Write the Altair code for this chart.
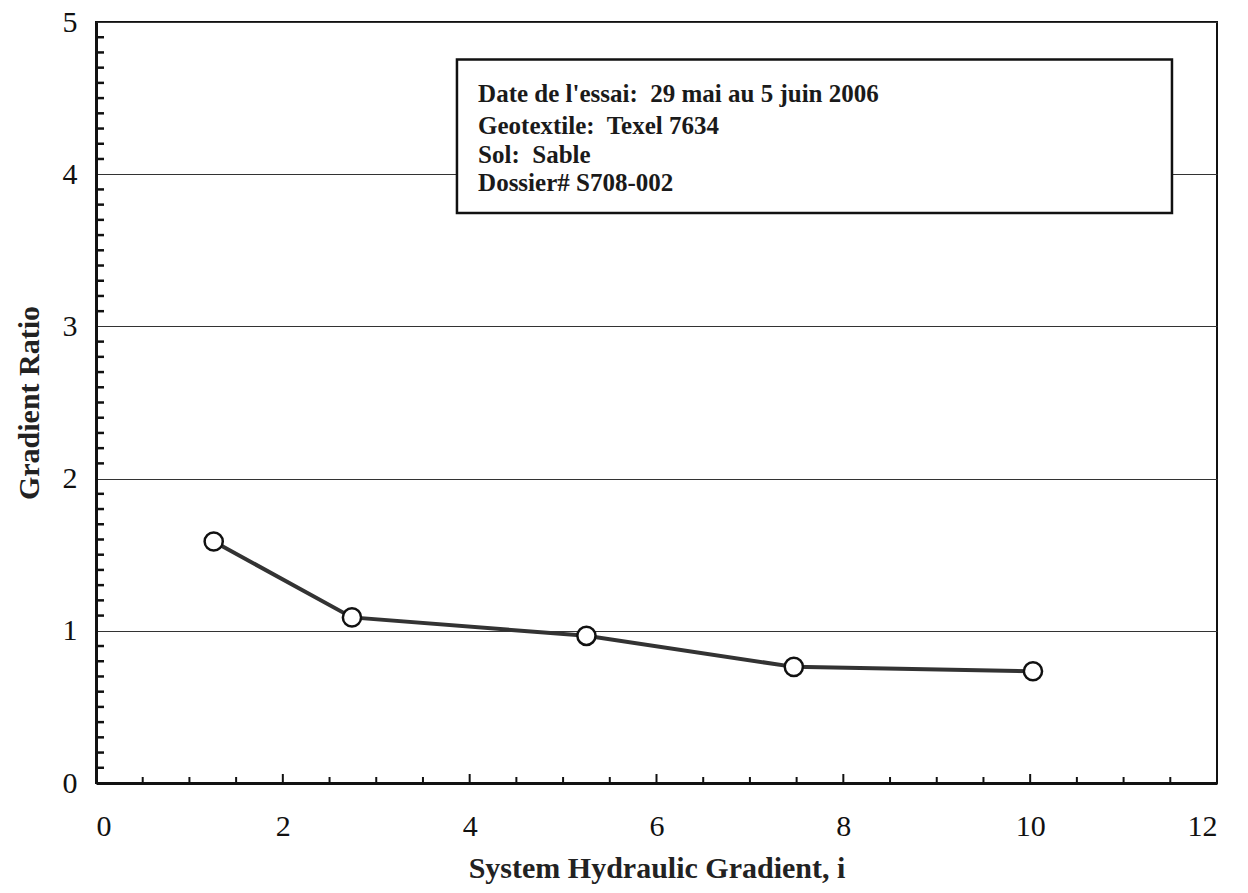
import altair as alt
import pandas as pd

# ---- data ----
gradient_i = [1.26, 2.74, 5.25, 7.47, 10.03]
gradient_ratio = [1.587, 1.088, 0.967, 0.763, 0.734]

x_labels = [0, 2, 4, 6, 8, 10, 12]
y_labels = [0, 1, 2, 3, 4, 5]
x_minor = [0.5, 1, 1.5, 2.5, 3, 3.5, 4.5, 5, 5.5, 6.5, 7, 7.5, 8.5, 9, 9.5,
           10.5, 11, 11.5]
x_major_inner = [2, 4, 6, 8, 10]
y_minor = [round(i / 10, 1) for i in range(1, 50) if i % 10 != 0]

note_lines = [
    "Date de l'essai:\u00a0 29 mai au 5 juin 2006",
    "Geotextile:\u00a0 Texel 7634",
    "Sol:\u00a0 Sable",
    "Dossier# S708-002",
]
note_y = [4.475, 4.265, 4.075, 3.89]
note_x = 4.09
box = {"x": 3.864, "x2": 11.518, "y": 4.754, "y2": 3.745}

W, H = 1121, 761
SERIF = "Liberation Serif"

df = pd.DataFrame({"i": gradient_i, "gr": gradient_ratio})
notes = pd.DataFrame({"t": note_lines, "y": note_y, "x": [note_x] * len(note_lines)})
boxdf = pd.DataFrame([box])
ymin = pd.DataFrame({"v": y_minor})
xmin = pd.DataFrame({"v": x_minor})
xmaj = pd.DataFrame({"v": x_major_inner})

xs = alt.Scale(domain=[0, 12], nice=False, zero=False)
ys = alt.Scale(domain=[0, 5], nice=False, zero=False)

xaxis = alt.Axis(
    values=x_labels, format="d", title="System Hydraulic Gradient, i",
    grid=False, ticks=False, tickSize=0, labelFont=SERIF, labelFontSize=30,
    labelColor="#111", labelPadding=28, domainColor="#111", domainWidth=3,
    titleFont=SERIF, titleFontSize=30, titleFontWeight="bold",
    titleColor="#222", titlePadding=12,
)
yaxis = alt.Axis(
    values=y_labels, format="d", title="Gradient Ratio", grid=True,
    gridColor="#333", gridWidth=1, ticks=False, tickSize=0, labelFont=SERIF,
    labelFontSize=30, labelColor="#111", labelPadding=19, domainColor="#111",
    domainWidth=3, titleFont=SERIF, titleFontSize=30, titleFontWeight="bold",
    titleColor="#222", titlePadding=18,
)

base_axes = alt.Chart(df).mark_point(opacity=0).encode(
    x=alt.X("i:Q", scale=xs, axis=xaxis),
    y=alt.Y("gr:Q", scale=ys, axis=yaxis),
)

rect = alt.Chart(boxdf).mark_rect(
    fill="white", stroke="#111", strokeWidth=2.5
).encode(
    x=alt.X("x:Q", scale=xs), x2="x2:Q",
    y=alt.Y("y:Q", scale=ys), y2="y2:Q",
)

text = alt.Chart(notes).mark_text(
    align="left", baseline="alphabetic", font=SERIF, fontSize=25,
    fontWeight="bold", color="#1a1a1a",
).encode(
    x=alt.X("x:Q", scale=xs), y=alt.Y("y:Q", scale=ys), text="t:N"
)

line = alt.Chart(df).mark_line(color="#333", strokeWidth=4).encode(
    x=alt.X("i:Q", scale=xs), y=alt.Y("gr:Q", scale=ys)
)
pts = alt.Chart(df).mark_point(
    shape="circle", filled=True, fill="white", stroke="#111",
    strokeWidth=2.5, size=330, opacity=1,
).encode(x=alt.X("i:Q", scale=xs), y=alt.Y("gr:Q", scale=ys))

yt = alt.Chart(ymin).mark_rule(color="#111", strokeWidth=2.5).encode(
    y=alt.Y("v:Q", scale=ys), x=alt.value(0), x2=alt.value(8)
)
xt = alt.Chart(xmin).mark_rule(color="#111", strokeWidth=2).encode(
    x=alt.X("v:Q", scale=xs), y=alt.value(H), y2=alt.value(H - 6)
)
xtm = alt.Chart(xmaj).mark_rule(color="#111", strokeWidth=2).encode(
    x=alt.X("v:Q", scale=xs), y=alt.value(H), y2=alt.value(H - 9)
)

chart = alt.layer(base_axes, rect, text, line, pts, yt, xt, xtm).properties(
    width=W, height=H,
    autosize=alt.AutoSizeParams(type="none"),
    padding={"left": 96, "top": 22, "right": 31, "bottom": 110},
    background="white",
).configure_view(stroke="#111", strokeWidth=2)

chart.save("out.html", embed_options={"renderer": "svg", "actions": False})
